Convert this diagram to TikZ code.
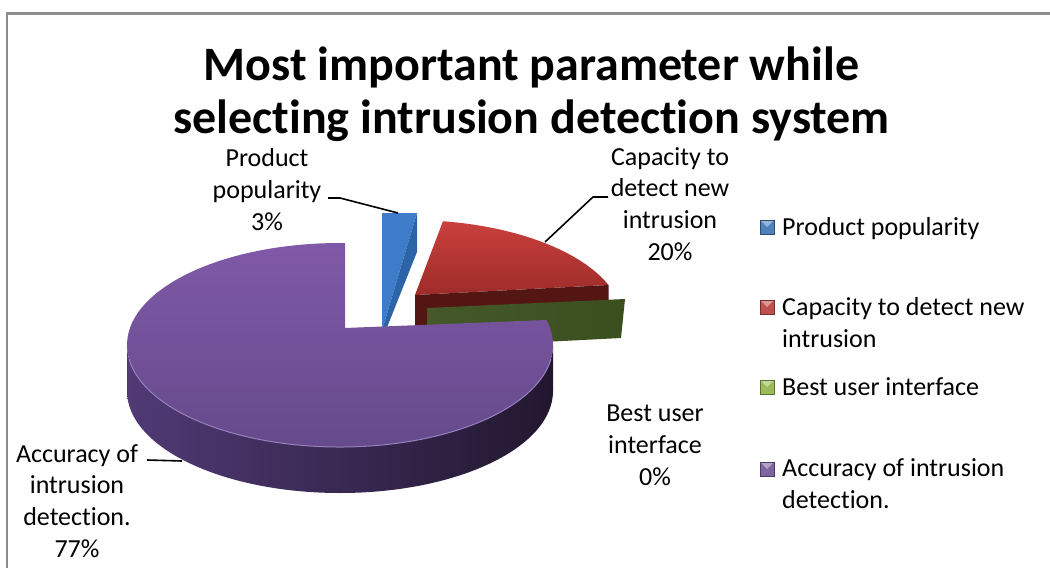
\documentclass[tikz,border=0pt]{standalone}
\usepackage{fontspec}
\setmainfont[Ligatures=NoCommon]{Carlito}
\definecolor{frame}{HTML}{8C8C8C}
\definecolor{purpTop}{HTML}{8059A8}
\definecolor{purpBot}{HTML}{654A8B}
\definecolor{purpWallL}{HTML}{513A75}
\definecolor{purpWallR}{HTML}{22172F}
\definecolor{purpRim}{HTML}{9580BD}
\definecolor{redTop}{HTML}{C9403D}
\definecolor{redBot}{HTML}{9E2C29}
\definecolor{redFace}{HTML}{541613}
\definecolor{grnL}{HTML}{44582A}
\definecolor{grnR}{HTML}{3B4E1E}
\definecolor{bluLight}{HTML}{3C7CC9}
\definecolor{bluDark}{HTML}{2D64A8}
\definecolor{legBlue}{HTML}{4F81BD}
\definecolor{legRed}{HTML}{C0504D}
\definecolor{legGreen}{HTML}{9BBB59}
\definecolor{legPurple}{HTML}{8064A2}
\tikzset{
  % multi-line nodes: the base anchor sits on the last line's baseline
  lbl/.style={font=\fontsize{26}{31.6}\selectfont, align=center, inner sep=0pt, anchor=base},
  legtext/.style={font=\fontsize{26}{32}\selectfont, align=left, inner sep=0pt, anchor=base west},
  leader/.style={line width=1.6pt, black},
  legmark/.style={minimum size=14pt, inner sep=0pt, draw=#1!60!black, fill=#1,
    path picture={\fill[#1!60!white] (path picture bounding box.north west) --
      (path picture bounding box.north east) -- (path picture bounding box.center) -- cycle;}},
}
\begin{document}
\begin{tikzpicture}[x=1pt,y=-1pt]
\useasboundingbox (0,0) rectangle (1050,568);
% chart frame
\draw[frame, line width=2.3pt] (6.8,568) -- (6.8,13.5) -- (1050,13.5);

% title
\node[font=\fontsize{48}{53}\selectfont\bfseries, align=center, inner sep=0pt, anchor=base]
  (title) at (531.5,133) {Most important parameter while\\selecting intrusion detection system};

% Product popularity slice (3%)
\fill[bluLight] (382,213) -- (417,213) -- (383,327) -- (382,327) -- cycle;
\fill[bluDark] (417,213) -- (417,252) -- (386,330) -- (383,327) -- cycle;

% Capacity to detect new intrusion slice (20%)
\shade[top color=redTop, bottom color=redBot] (415,295) --
  ([shift={(410,322)}]-81.1:213 and 102)
  arc[start angle=-81.1, end angle=-21.3, x radius=213, y radius=102] -- cycle;
\fill[redFace] (415,295) -- (608.5,285) -- (608.5,330) -- (415,340) -- cycle;

% Best user interface slice (0%): only its cut face shows
\shade[left color=grnL, right color=grnR] (427,308) -- (625,299) -- (621,338) -- (427,348) -- cycle;

% Accuracy of intrusion detection slice (77%)
\shade[left color=purpWallL, right color=purpWallR]
  ([shift={(340,345)}]180:213 and 102)
  arc[start angle=180, end angle=0, x radius=213, y radius=102] -- ++(0,46)
  arc[start angle=0, end angle=180, x radius=213, y radius=102] -- cycle;
\shade[top color=purpTop, bottom color=purpBot] (345,328) --
  ([shift={(340,345)}]-88.65:213 and 102)
  arc[start angle=-88.65, end angle=-374.2, x radius=213, y radius=102] -- cycle;
\draw[purpRim, line width=1pt] ([shift={(340,345)}]172:213 and 102)
  arc[start angle=172, end angle=8, x radius=213, y radius=102];

% data labels
\node[lbl] (lpop) at (267,230) {Product\\popularity\\3\%};
\node[lbl] (lcap) at (670,260) {Capacity to\\detect new\\intrusion\\20\%};
\node[lbl] (lui)  at (655,485) {Best user\\interface\\0\%};
\node[lbl] (lacc) at (77,557)  {Accuracy of\\intrusion\\detection.\\77\%};

% leader lines
\coordinate (popA) at (328,198);
\coordinate (popE) at (398,213);
\coordinate (capA) at (608,197);
\coordinate (capE) at (545,242);
\coordinate (accA) at (147,460);
\coordinate (accE) at (182,461);
\draw[leader] (popA) -- ++(12,0) -- (popE);
\draw[leader] (capA) -- ++(-15,0) -- (capE);
\draw[leader] (accA) -- (accE);

% legend
\node[legmark=legBlue]   (k1) at (767,227) {};
\node[legmark=legRed]    (k2) at (767,307) {};
\node[legmark=legGreen]  (k3) at (767,387) {};
\node[legmark=legPurple] (k4) at (767,469) {};
\node[legtext] (t1) at (782,235) {Product popularity};
\node[legtext] (t2) at (782,347) {Capacity to detect new\\intrusion};
\node[legtext] (t3) at (782,395) {Best user interface};
\node[legtext] (t4) at (782,508) {Accuracy of intrusion\\detection.};
\end{tikzpicture}
\end{document}
